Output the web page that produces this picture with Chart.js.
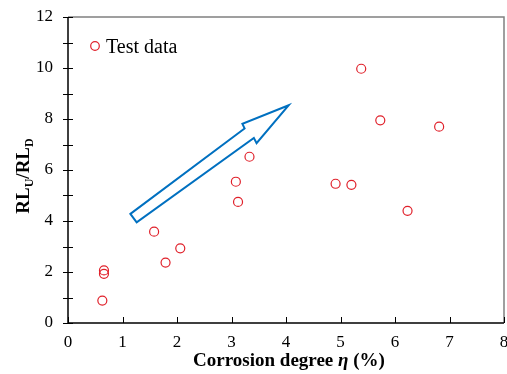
<!DOCTYPE html>
<html>
<head>
<meta charset="utf-8">
<script src="https://cdn.jsdelivr.net/npm/chart.js@4/dist/chart.umd.min.js"></script>
<style>
html,body{margin:0;padding:0;background:#fff;}
canvas{display:block;}
</style>
</head>
<body>
<canvas id="c" width="507" height="374"></canvas>
<script>
// Data
const corrosion = [0.63, 0.66, 0.66, 1.58, 1.79, 2.06, 3.08, 3.12, 3.33, 4.91, 5.20, 5.38, 5.73, 6.23, 6.81];
const ratio     = [0.88, 2.06, 1.93, 3.58, 2.37, 2.93, 5.54, 4.75, 6.52, 5.46, 5.42, 9.97, 7.95, 4.40, 7.70];
const seriesName = 'Test data';
const xTicks = [0, 1, 2, 3, 4, 5, 6, 7, 8];
const yTicks = [0, 2, 4, 6, 8, 10, 12];
// Hollow arrow annotation outline (data units)
const arrowX = [1.145, 3.24, 3.20, 4.05, 3.46, 3.41, 1.26];
const arrowY = [4.28, 7.63, 7.81, 8.54, 7.05, 7.26, 3.95];

const points = corrosion.map((x, i) => ({x: x, y: ratio[i]}));
const SERIF = '"Liberation Serif", "Times New Roman", serif';

const framePlugin = {
  id: 'frame',
  beforeDatasetsDraw(chart) {
    const ctx = chart.ctx, a = chart.chartArea;
    const xs = chart.scales.x, ys = chart.scales.y;
    ctx.save();
    ctx.strokeStyle = '#808080';
    ctx.lineWidth = 1.5;
    ctx.beginPath();
    ctx.moveTo(a.left, a.top); ctx.lineTo(a.right, a.top); ctx.lineTo(a.right, a.bottom);
    ctx.stroke();
    ctx.strokeStyle = '#000';
    ctx.lineWidth = 1.5;
    ctx.beginPath();
    ctx.moveTo(a.left, a.top); ctx.lineTo(a.left, a.bottom); ctx.lineTo(a.right, a.bottom);
    ctx.stroke();
    ctx.lineWidth = 1;
    for (let v = ys.min; v <= ys.max; v += 1) {
      const py = Math.round(ys.getPixelForValue(v)) + 0.5;
      ctx.beginPath(); ctx.moveTo(a.left - 5, py); ctx.lineTo(a.left + 5, py); ctx.stroke();
    }
    for (let v = xs.min; v <= xs.max; v += 1) {
      const px = Math.round(xs.getPixelForValue(v)) + 0.5;
      ctx.beginPath(); ctx.moveTo(px, a.bottom); ctx.lineTo(px, a.bottom - 6); ctx.stroke();
    }
    ctx.restore();
  },
  afterDraw(chart) {
    const ctx = chart.ctx, a = chart.chartArea;
    const xs = chart.scales.x, ys = chart.scales.y;
    ctx.save();
    ctx.strokeStyle = '#0070C0';
    ctx.lineWidth = 2;
    ctx.lineJoin = 'miter';
    ctx.beginPath();
    arrowX.forEach((x, i) => {
      const px = xs.getPixelForValue(x), py = ys.getPixelForValue(arrowY[i]);
      if (i === 0) ctx.moveTo(px, py); else ctx.lineTo(px, py);
    });
    ctx.closePath();
    ctx.stroke();
    // legend
    const lx = a.left + 27, ly = a.top + 29;
    ctx.strokeStyle = '#E0202A';
    ctx.lineWidth = 1.2;
    ctx.beginPath(); ctx.arc(lx, ly, 4.3, 0, Math.PI * 2); ctx.stroke();
    ctx.fillStyle = '#000';
    ctx.font = '20px ' + SERIF;
    ctx.textBaseline = 'alphabetic';
    ctx.textAlign = 'left';
    ctx.fillText(seriesName, lx + 11, ly + 7);
    // x title
    const parts = [
      {t: 'Corrosion degree ', f: 'bold 19px ' + SERIF},
      {t: 'η', f: 'bold italic 19px ' + SERIF},
      {t: ' (%)', f: 'bold 19px ' + SERIF}
    ];
    let total = 0;
    parts.forEach(p => { ctx.font = p.f; p.w = ctx.measureText(p.t).width; total += p.w; });
    let x0 = 289 - total / 2;
    parts.forEach(p => { ctx.font = p.f; ctx.fillText(p.t, x0, 366); x0 += p.w; });
    // y title
    ctx.translate(29, 176);
    ctx.rotate(-Math.PI / 2);
    const yp = [
      {t: 'RL', f: 'bold 19px ' + SERIF, dy: 0},
      {t: 'U', f: 'bold 12px ' + SERIF, dy: 4},
      {t: '/RL', f: 'bold 19px ' + SERIF, dy: 0},
      {t: 'D', f: 'bold 12px ' + SERIF, dy: 4}
    ];
    total = 0;
    yp.forEach(p => { ctx.font = p.f; p.w = ctx.measureText(p.t).width; total += p.w; });
    x0 = -total / 2;
    yp.forEach(p => { ctx.font = p.f; ctx.fillText(p.t, x0, p.dy); x0 += p.w; });
    ctx.restore();
  }
};

new Chart(document.getElementById('c'), {
  type: 'scatter',
  data: {
    datasets: [{
      label: seriesName,
      data: points,
      pointStyle: 'circle',
      pointRadius: 4.5,
      pointHoverRadius: 4.5,
      borderWidth: 1.2,
      borderColor: '#E0202A',
      backgroundColor: 'rgba(255,255,255,0)'
    }]
  },
  options: {
    responsive: false,
    animation: false,
    devicePixelRatio: 1,
    layout: {autoPadding: false, padding: {top: 17, right: 3, left: 0, bottom: 0}},
    plugins: {legend: {display: false}, tooltip: {enabled: false}},
    scales: {
      x: {
        type: 'linear', min: 0, max: 8,
        grid: {display: false, drawTicks: false},
        border: {display: false},
        afterBuildTicks(s) { s.ticks = xTicks.map(v => ({value: v})); },
        ticks: {padding: 9, color: '#000', font: {family: SERIF, size: 17}, maxRotation: 0},
        afterFit(s) { s.height = 51; s.paddingLeft = 0; s.paddingRight = 0; }
      },
      y: {
        type: 'linear', min: 0, max: 12,
        grid: {display: false, drawTicks: false},
        border: {display: false},
        afterBuildTicks(s) { s.ticks = yTicks.map(v => ({value: v})); },
        ticks: {padding: 15, color: '#000', font: {family: SERIF, size: 17}},
        afterFit(s) { s.width = 68; s.paddingTop = 0; s.paddingBottom = 0; }
      }
    }
  },
  plugins: [framePlugin]
});
</script>
</body>
</html>
